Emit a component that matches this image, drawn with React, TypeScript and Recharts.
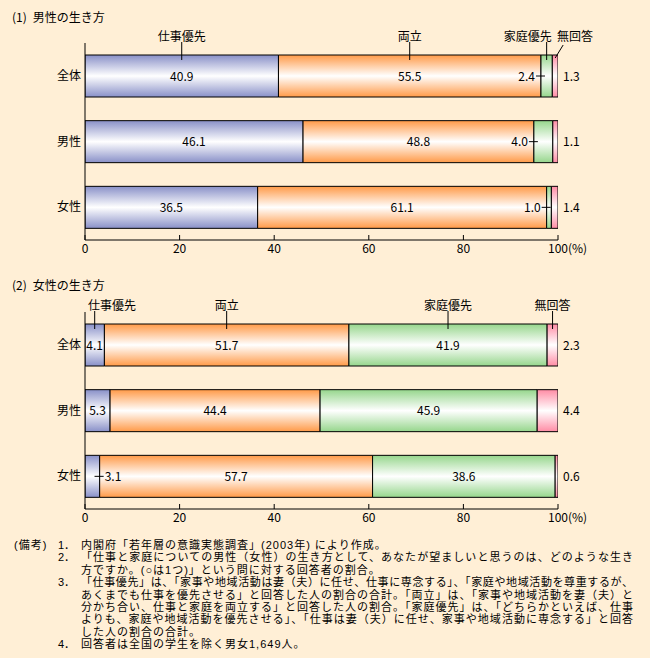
import { BarChart, Bar, XAxis, YAxis, LabelList } from 'recharts';

// categories and series
const categories = ['全体', '男性', '女性'];
const seriesNames = ['仕事優先', '両立', '家庭優先', '無回答'];
const xTicks = [0, 20, 40, 60, 80, 100];

// (1) 男性の生き方
const menWork = [40.9, 46.1, 36.5];
const menBoth = [55.5, 48.8, 61.1];
const menHome = [2.4, 4.0, 1.0];
const menNone = [1.3, 1.1, 1.4];

// (2) 女性の生き方
const womenWork = [4.1, 5.3, 3.1];
const womenBoth = [51.7, 44.4, 57.7];
const womenHome = [41.9, 45.9, 38.6];
const womenNone = [2.3, 4.4, 0.6];

const notes = [
    ['(備考)', '1．', '内閣府「若年層の意識実態調査」(2003年) により作成。'],
    ['', '2．', '「仕事と家庭についての男性（女性）の生き方として、あなたが望ましいと思うのは、どのような生き'],
    ['', '', '方ですか。(○は1つ)」という問に対する回答者の割合。'],
    ['', '3．', '「仕事優先」は、「家事や地域活動は妻（夫）に任せ、仕事に専念する」、「家庭や地域活動を尊重するが、'],
    ['', '', 'あくまでも仕事を優先させる」と回答した人の割合の合計。「両立」は、「家事や地域活動を妻（夫）と'],
    ['', '', '分かち合い、仕事と家庭を両立する」と回答した人の割合。「家庭優先」は、「どちらかといえば、仕事'],
    ['', '', 'よりも、家庭や地域活動を優先させる」、「仕事は妻（夫）に任せ、家事や地域活動に専念する」と回答'],
    ['', '', 'した人の割合の合計。'],
    ['', '4．', '回答者は全国の学生を除く男女1,649人。'],
];
const fullLines = [1, 3, 4, 5, 6];

const FONT = '"Noto Sans CJK JP", "Noto Sans", sans-serif';
const NOTE_FONT = '"Liberation Sans", "Noto Sans CJK JP", sans-serif';
const keys = ['work', 'both', 'home', 'none'];
const colors = ['#8990C8', '#FF9A48', '#96D68C', '#FF8CA5'];

function buildRows(work: number[], both: number[], home: number[], none: number[]) {
    return categories.map((name, i) => ({
        name, work: work[i], both: both[i], home: home[i], none: none[i],
    }));
}

const menRows = buildRows(menWork, menBoth, menHome, menNone);
const womenRows = buildRows(womenWork, womenBoth, womenHome, womenNone);

function XTick(props: any) {
    const { x, y, payload } = props;
    const v = payload.value;
    return (
        <g>
            <line x1={x} x2={x} y1={y - 5} y2={y} stroke="#000" />
            <text x={x} y={y + 13} textAnchor="middle" fontSize={12} fontFamily={FONT} fill="#000">{v}</text>
            {v === 100 && (
                <text x={x + 10} y={y + 13} textAnchor="start" fontSize={12} fontFamily={FONT} fill="#000">(%)</text>
            )}
        </g>
    );
}

function YTick(props: any) {
    const { x, y, payload } = props;
    return (
        <text x={x - 4} y={y + 4} textAnchor="end" fontSize={12} fontFamily={FONT} fill="#000">{payload.value}</text>
    );
}

// value label inside / beside each segment
function valueLabel(key: string, chart: number) {
    return (p: any) => {
        const { x, y, width, height, value } = p;
        const cy = y + height / 2 + 4.5;
        const t = (tx: number, anchor: string) => (
            <text x={tx} y={cy} textAnchor={anchor as any} fontSize={12} fontFamily={FONT} fill="#000">
                {Number(value).toFixed(1)}
            </text>
        );
        if (key === 'none') return t(x + width + 5, 'start');
        if (chart === 1 && key === 'home') {
            return (
                <g>
                    <line x1={x - 5} x2={x + 4} y1={y + height / 2} y2={y + height / 2} stroke="#000" />
                    {t(x - 6, 'end')}
                </g>
            );
        }
        if (chart === 2 && key === 'work' && value < 4) {
            return (
                <g>
                    <line x1={x + width * 0.65} x2={x + width + 4} y1={y + height / 2} y2={y + height / 2} stroke="#000" />
                    {t(x + width + 5, 'start')}
                </g>
            );
        }
        return t(x + width / 2, 'middle');
    };
}

// series names above the first bar
function headerLabel(idx: number, chart: number) {
    return (p: any) => {
        const { x, y, width, index } = p;
        if (index !== 0) return null;
        const cx = x + width / 2;
        const name = seriesNames[idx];
        const ty = y - 14;
        let tx = cx;
        let anchor = 'middle';
        if (chart === 1 && idx === 2) { tx = cx + 5; anchor = 'end'; }
        if (chart === 2 && idx === 0) { tx = x + 3; anchor = 'start'; }
        if (chart === 1 && idx === 3) {
            return (
                <g>
                    <line x1={cx} x2={cx + 8} y1={y + 3} y2={y - 10} stroke="#000" />
                    <text x={x + width - 1} y={ty} textAnchor="start" fontSize={12} fontFamily={FONT} fill="#000">{name}</text>
                </g>
            );
        }
        return (
            <g>
                <line x1={cx} x2={cx} y1={y - 13} y2={y + 5} stroke="#000" />
                <text x={tx} y={ty} textAnchor={anchor as any} fontSize={12} fontFamily={FONT} fill="#000">{name}</text>
            </g>
        );
    };
}

function StackChart({ rows, chart }: { rows: any[]; chart: number }) {
    return (
        <BarChart
            width={650}
            height={265}
            data={rows}
            layout="vertical"
            margin={{ top: 43, right: 92, bottom: 5, left: 45 }}
            barSize={42}
        >
            <defs>
                {colors.map((c, i) => (
                    <linearGradient key={i} id={`g${chart}-${i}`} x1="0" y1="0" x2="0" y2="1">
                        <stop offset="0%" stopColor={c} />
                        <stop offset="50%" stopColor="#ffffff" />
                        <stop offset="100%" stopColor={c} />
                    </linearGradient>
                ))}
            </defs>
            <XAxis
                type="number"
                domain={[0, 100]}
                ticks={xTicks}
                allowDataOverflow
                height={20}
                tickSize={0}
                tickMargin={0}
                axisLine={{ stroke: '#000' }}
                tickLine={false}
                tick={<XTick />}
                interval={0}
            />
            <YAxis
                type="category"
                dataKey="name"
                width={40}
                axisLine={{ stroke: '#000' }}
                tickLine={false}
                tickSize={0}
                tickMargin={0}
                tick={<YTick />}
            />
            {keys.map((k, i) => (
                <Bar
                    key={k}
                    dataKey={k}
                    stackId="a"
                    fill={`url(#g${chart}-${i})`}
                    stroke="#000"
                    strokeWidth={1}
                    isAnimationActive={false}
                >
                    <LabelList dataKey={k} content={valueLabel(k, chart)} />
                    <LabelList dataKey={k} content={headerLabel(i, chart)} />
                </Bar>
            ))}
        </BarChart>
    );
}

export default function App() {
    const titleStyle: React.CSSProperties = {
        position: 'absolute', left: 12, fontSize: 12, fontFamily: FONT, color: '#000', lineHeight: '14px',
    };
    const cell = (left: number): React.CSSProperties => ({
        position: 'absolute', left, top: 0, height: 12.4, lineHeight: '12.4px', whiteSpace: 'nowrap',
    });
    return (
        <div style={{ position: 'absolute', left: 0, top: 0, width: 650, height: 658, background: '#FFEFD6', overflow: 'hidden' }}>
            <div style={{ ...titleStyle, top: 10 }}>(1)<span style={{ marginLeft: 6 }}>男性の生き方</span></div>
            <div style={{ position: 'absolute', left: 0, top: 0 }}>
                <StackChart rows={menRows} chart={1} />
            </div>
            <div style={{ ...titleStyle, top: 278 }}>(2)<span style={{ marginLeft: 6 }}>女性の生き方</span></div>
            <div style={{ position: 'absolute', left: 0, top: 269 }}>
                <StackChart rows={womenRows} chart={2} />
            </div>
            <div style={{ position: 'absolute', left: 0, top: 539, fontSize: 11, fontFamily: NOTE_FONT, color: '#000' }}>
                {notes.map((n, i) => {
                    const full = fullLines.includes(i);
                    return (
                        <div key={i} style={{ position: 'relative', height: 12.4 }}>
                            <div style={{ ...cell(14), letterSpacing: 1 }}>{n[0]}</div>
                            <div style={cell(58)}>{n[1]}</div>
                            <div
                                style={{
                                    ...cell(81),
                                    width: full ? 552 : undefined,
                                    textAlign: full ? 'justify' : 'left',
                                    textAlignLast: full ? 'justify' : 'auto',
                                    letterSpacing: full ? 0 : 1,
                                } as React.CSSProperties}
                            >
                                {n[2]}
                            </div>
                        </div>
                    );
                })}
            </div>
        </div>
    );
}
